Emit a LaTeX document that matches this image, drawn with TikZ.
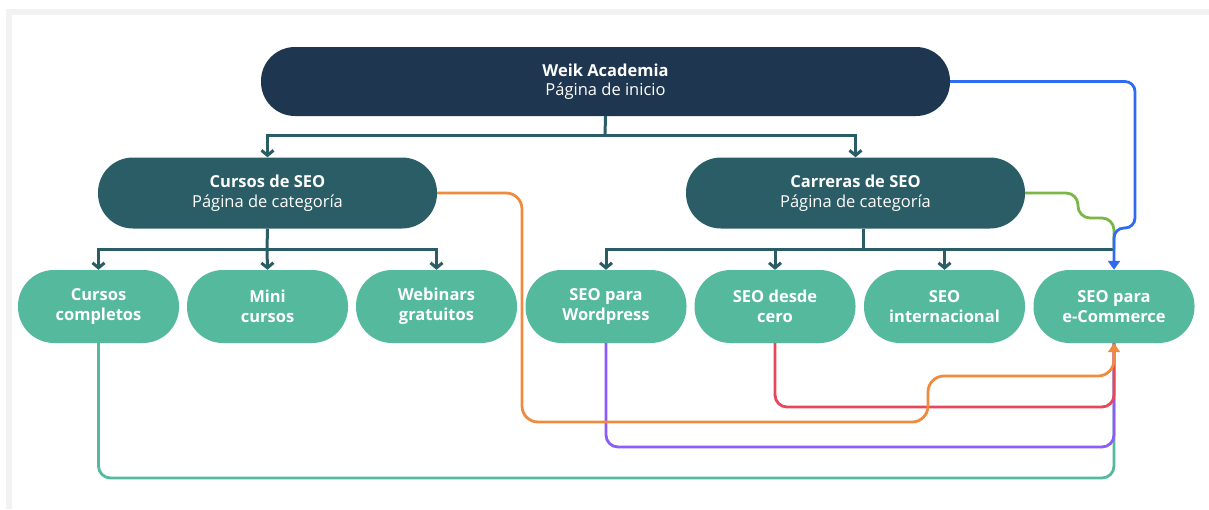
\documentclass[tikz,border=0pt]{standalone}
\usepackage{fontspec}
\setmainfont{Open Sans}
\usetikzlibrary{arrows.meta,calc}
\definecolor{navy}{HTML}{1F3650}
\definecolor{petrol}{HTML}{2B5D66}
\definecolor{mint}{HTML}{55B99E}
\definecolor{framegray}{HTML}{F2F2F2}
\definecolor{linkblue}{HTML}{2F6BF0}
\definecolor{linkgreen}{HTML}{7AB648}
\definecolor{linkorange}{HTML}{F08A3C}
\definecolor{linkred}{HTML}{E8465A}
\definecolor{linkpurple}{HTML}{8B5CF6}
\tikzset{
    x=1pt,
    y=-1pt,
    homebox/.style = {
        shape=rectangle,
        fill=navy,
        rounded corners=34pt,
        minimum height=69pt,
        minimum width=689pt,
        inner sep=0pt,
        align=center,
        text=white,
        font=\fontsize{16.5}{19.5}\selectfont
    },
    catbox/.style = {
        shape=rectangle,
        fill=petrol,
        rounded corners=35pt,
        minimum height=71pt,
        minimum width=339pt,
        inner sep=0pt,
        align=center,
        text=white,
        font=\fontsize{16.5}{19.5}\selectfont
    },
    leafbox/.style = {
        shape=rectangle,
        fill=mint,
        rounded corners=36pt,
        minimum height=73pt,
        minimum width=161pt,
        inner sep=0pt,
        align=center,
        text=white,
        font=\bfseries\fontsize{16.5}{20}\selectfont
    },
    tree/.style = {
        draw=petrol,
        line width=3pt
    },
    link/.style = {
        line width=2.8pt,
        rounded corners=12pt
    },
    tip/.style = {
        -{Triangle[length=9pt,width=12pt]}
    },
    >={Straight Barb[length=5pt,width=12pt]},
}

\begin{document}
\begin{tikzpicture}
    \useasboundingbox (0,0) rectangle (1209,509);
    \fill[framegray] (6,9) rectangle (1209,15);
    \fill[framegray] (6,9) rectangle (12,509);

    \node[homebox] (home) at (605.5,81.5) {\textbf{Weik Academia}\\Página de inicio};
    \node[catbox] (cursos) at (267.5,193) {\textbf{Cursos de SEO}\\Página de categoría};
    \node[catbox] (carreras) at (855.5,193) {\textbf{Carreras de SEO}\\Página de categoría};

    \node[leafbox] (completos) at (98.5,306.5) {Cursos\\completos};
    \node[leafbox] (mini) at (267.5,306.5) {Mini\\cursos};
    \node[leafbox] (webinars) at (436.5,306.5) {Webinars\\gratuitos};
    \node[leafbox] (wordpress) at (606,306.5) {SEO para\\Wordpress};
    \node[leafbox] (desde) at (775,306.5) {SEO desde\\cero};
    \node[leafbox] (internacional) at (944.5,306.5) {SEO\\internacional};
    \node[leafbox] (ecommerce) at (1114,306.5) {SEO para\\e-Commerce};

    \coordinate (homesplit) at (605,135);
    \coordinate (cursossplit) at (267,249);
    \coordinate (carrerassplit) at (863,249);

    \path[draw, tree] (home.south) -- (homesplit);
    \path[draw, tree, ->] (homesplit) -| (cursos.north);
    \path[draw, tree, ->] (homesplit) -| (carreras.north);

    \path[draw, tree] (cursos.south) -- (cursossplit);
    \path[draw, tree, ->] (cursossplit) -| (completos.north);
    \path[draw, tree, ->] (cursossplit) -- (mini.north);
    \path[draw, tree, ->] (cursossplit) -| (webinars.north);

    \path[draw, tree] (carreras.south -| carrerassplit) -- (carrerassplit);
    \path[draw, tree, ->] (carrerassplit) -| (wordpress.north);
    \path[draw, tree, ->] (carrerassplit) -| (desde.north);
    \path[draw, tree, ->] (carrerassplit) -| (internacional.north);
    \path[draw, tree] (carrerassplit) -- (carrerassplit -| ecommerce.north);

    % links into e-Commerce
    \coordinate (greenbend) at (1078,218);
    \coordinate (bluebend) at (1135,228);
    \coordinate (orangedrop) at (522,422);
    \coordinate (orangestep) at (928,376);
    \coordinate (redlane) at (1114,407);
    \coordinate (purplelane) at (1114,447);
    \coordinate (teallane) at (1114,478);

    \path[draw, link, linkgreen] (carreras.east) -| (greenbend) -| (carrerassplit -| ecommerce.north);
    \path[draw, link, linkblue, rounded corners=10pt, tip] (home.east) -| (bluebend) -- (bluebend -| ecommerce.north) -- (ecommerce.north);

    \path[draw, link, mint] (completos.south) |- (teallane) -- (ecommerce.south);
    \path[draw, link, linkpurple] (wordpress.south) |- (purplelane) -- (ecommerce.south);
    \path[draw, link, linkred] (desde.south) |- (redlane) -- (ecommerce.south);
    \path[draw, link, linkorange, rounded corners=16pt, tip] (cursos.east) -| (orangedrop) -| (orangestep) -| (ecommerce.south);
\end{tikzpicture}
\end{document}
